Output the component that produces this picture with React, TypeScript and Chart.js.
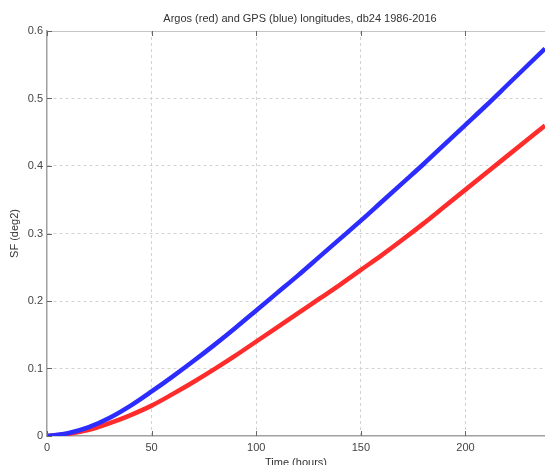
import { useEffect, useRef } from "react";
import { Chart, registerables } from "chart.js";

Chart.register(...registerables);

const hours = [0, 10, 20, 30, 40, 50, 60, 70, 80, 90, 100, 110, 120, 130, 140, 150, 160, 170, 180, 190, 200, 210, 220, 230, 238];
const gpsBlue = [0.0, 0.004, 0.013, 0.027, 0.045, 0.066, 0.088, 0.111, 0.135, 0.16, 0.186, 0.212, 0.238, 0.265, 0.292, 0.319, 0.347, 0.375, 0.403, 0.432, 0.461, 0.49, 0.52, 0.55, 0.574];
const argosRed = [0.0, 0.003, 0.009, 0.019, 0.031, 0.045, 0.062, 0.08, 0.099, 0.119, 0.14, 0.161, 0.182, 0.203, 0.224, 0.246, 0.268, 0.291, 0.315, 0.34, 0.365, 0.39, 0.415, 0.44, 0.46];
const xTicks = [0, 50, 100, 150, 200];
const yTicks = [0, 0.1, 0.2, 0.3, 0.4, 0.5, 0.6];
const chartTitle = "Argos (red) and GPS (blue) longitudes, db24 1986-2016";
const xTitle = "Time (hours)";
const yTitle = "SF (deg2)";

const W = 545;
const H = 470;
const FONT = '"Liberation Sans", Arial, Helvetica, sans-serif';

export default function App() {
  const ref = useRef<HTMLCanvasElement | null>(null);

  useEffect(() => {
    if (!ref.current) return;
    const frame = {
      id: "frame",
      afterDraw(chart: any) {
        const { ctx, chartArea: a, scales } = chart;
        ctx.save();
        ctx.setLineDash([]);
        ctx.strokeStyle = "#c4c4c4";
        ctx.lineWidth = 1;
        ctx.beginPath();
        ctx.moveTo(a.left, a.top + 0.5);
        ctx.lineTo(a.right, a.top + 0.5);
        ctx.stroke();
        ctx.strokeStyle = "#666";
        ctx.lineWidth = 1;
        ctx.beginPath();
        for (const v of xTicks) {
          const px = Math.round(scales.x.getPixelForValue(v)) + 0.5;
          ctx.moveTo(px, a.bottom);
          ctx.lineTo(px, a.bottom - 5);
          ctx.moveTo(px, a.top);
          ctx.lineTo(px, a.top + 5);
        }
        for (const v of yTicks) {
          const py = Math.round(scales.y.getPixelForValue(v)) + 0.5;
          ctx.moveTo(a.left, py);
          ctx.lineTo(a.left + 5, py);
        }
        ctx.stroke();
        ctx.fillStyle = "#333";
        ctx.font = "11px " + FONT;
        ctx.textAlign = "center";
        ctx.textBaseline = "middle";
        ctx.fillText(chartTitle, (a.left + a.right) / 2 + 4, 19);
        ctx.restore();
      },
    };

    const gridColor = (c: any, hide: (v: number) => boolean) =>
      hide(c.tick?.value ?? -1) ? "rgba(0,0,0,0)" : "#d2d2d2";

    const chart = new Chart(ref.current, {
      type: "line",
      data: {
        datasets: [
          {
            label: "GPS",
            data: hours.map((h, i) => ({ x: h, y: gpsBlue[i] })),
            borderColor: "#2c2cff",
            borderWidth: 4.5,
            pointRadius: 0,
            cubicInterpolationMode: "monotone",
            fill: false,
          },
          {
            label: "Argos",
            data: hours.map((h, i) => ({ x: h, y: argosRed[i] })),
            borderColor: "#ff2c2c",
            borderWidth: 4.5,
            pointRadius: 0,
            cubicInterpolationMode: "monotone",
            fill: false,
          },
        ],
      },
      options: {
        animation: false,
        responsive: false,
        devicePixelRatio: 1,
        layout: { padding: { top: 31, right: 0, bottom: 0, left: 0 } },
        plugins: {
          legend: { display: false },
          title: { display: false },
          tooltip: { enabled: false },
        },
        scales: {
          x: {
            type: "linear",
            min: 0,
            max: 238,
            afterFit: (s: any) => {
              s.height = 34;
            },
            afterBuildTicks: (s: any) => {
              s.ticks = xTicks.map((v) => ({ value: v }));
            },
            ticks: {
              padding: 5,
              color: "#444",
              font: { family: FONT, size: 11 },
              maxRotation: 0,
            },
            grid: {
              drawTicks: false,
              color: (c: any) => gridColor(c, (v) => v === 0),
              lineWidth: 1,
            },
            border: { display: true, color: "#a0a0a0", width: 1.5, dash: [3, 3] },
            title: {
              display: true,
              text: xTitle,
              color: "#333",
              font: { family: FONT, size: 11 },
              padding: { top: 0, bottom: 0 },
            },
          },
          y: {
            type: "linear",
            min: 0,
            max: 0.6,
            afterFit: (s: any) => {
              s.width = 47;
            },
            afterBuildTicks: (s: any) => {
              s.ticks = yTicks.map((v) => ({ value: v }));
            },
            ticks: {
              padding: 4,
              color: "#444",
              font: { family: FONT, size: 11 },
              callback: (v: any) => String(Number(v)),
            },
            grid: {
              drawTicks: false,
              color: (c: any) => gridColor(c, (v) => Math.abs(v - 0.6) < 1e-9 || v === 0),
              lineWidth: 1,
            },
            border: { display: true, color: "#a0a0a0", width: 1.5, dash: [3, 3] },
            title: {
              display: true,
              text: yTitle,
              color: "#333",
              font: { family: FONT, size: 11 },
              padding: { top: 8, bottom: 0 },
            },
          },
        },
      },
      plugins: [frame],
    } as any);

    return () => chart.destroy();
  }, []);

  return (
    <div
      style={{
        position: "fixed",
        left: 0,
        top: 0,
        width: W,
        height: 465,
        overflow: "hidden",
        background: "#fff",
      }}
    >
      <canvas ref={ref} width={W} height={H} style={{ width: W, height: H, display: "block" }} />
    </div>
  );
}
